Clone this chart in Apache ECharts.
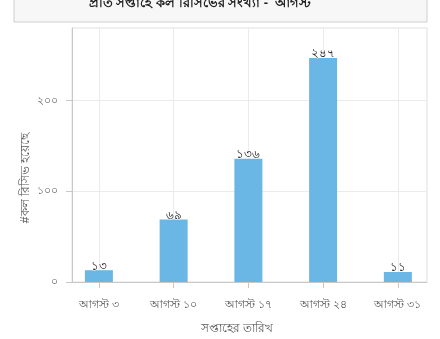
<!DOCTYPE html>
<html>
<head>
<meta charset="utf-8">
<script src="https://cdn.jsdelivr.net/npm/echarts@6/dist/echarts.min.js"></script>
<style>
html,body{margin:0;padding:0;background:#fff;}
#chart{width:440px;height:339px;}
</style>
</head>
<body>
<div id="chart"></div>
<script>
var titleText = 'প্রতি সপ্তাহে কল রিসিভের সংখ্যা -  আগস্ট';
var xAxisTitle = 'সপ্তাহের তারিখ';
var yAxisTitle = '#কল রিসিভ হয়েছে';
var categories = ['আগস্ট ৩', 'আগস্ট ১০', 'আগস্ট ১৭', 'আগস্ট ২৪', 'আগস্ট ৩১'];
var callCounts = [13, 69, 136, 247, 11];
var yTicks = [0, 100, 200];

var bnDigits = ['০','১','২','৩','৪','৫','৬','৭','৮','৯'];
function toBn(n){ return String(n).replace(/[0-9]/g, function(d){ return bnDigits[+d]; }); }

var FONT = 'sans-serif';
var chart = echarts.init(document.getElementById('chart'), null, {renderer:'canvas'});
var catIdx = categories.map(function(c,i){ return i; });
chart.setOption({
  animation:false,
  textStyle:{fontFamily:FONT},
  grid:{left:72, right:13, top:28, bottom:57, show:true, borderColor:'#e0e0e0', borderWidth:1, backgroundColor:'transparent'},
  graphic:[
    {type:'rect', shape:{x:14, y:-6, width:413, height:28}, style:{fill:'#f7f7f7', stroke:'#cfcfcf', lineWidth:1}, z:10},
    {type:'text', x:200, y:3, style:{text:titleText, font:'bold 13px sans-serif', fill:'#222', textAlign:'center', textVerticalAlign:'middle'}, z:11},
    {type:'text', x:237, y:329, style:{text:xAxisTitle, font:'12px sans-serif', fill:'#555', textAlign:'center', textVerticalAlign:'middle'}},
    {type:'text', x:26, y:178, rotation:Math.PI/2, style:{text:yAxisTitle, font:'12px sans-serif', fill:'#555', textAlign:'center', textVerticalAlign:'middle'}}
  ],
  xAxis:{
    type:'value', min:-0.36, max:4.39, splitNumber:5,
    axisLine:{show:true, onZero:false, lineStyle:{color:'#c8c8c8'}},
    axisTick:{show:true, length:6, lineStyle:{color:'#c8c8c8'}, customValues:catIdx},
    axisLabel:{customValues:catIdx, margin:17, color:'#555', fontSize:11, formatter:function(v){ var i=Math.round(v); return (Math.abs(v-i)<1e-6 && categories[i]) ? categories[i] : ''; }},
    splitLine:{show:true, lineStyle:{color:'#ebebeb', width:1}}
  },
  yAxis:{
    type:'value', min:0, max:280, interval:100,
    axisLine:{show:true, onZero:false, lineStyle:{color:'#c8c8c8'}},
    axisTick:{show:true, length:6, lineStyle:{color:'#c8c8c8'}, customValues:yTicks},
    axisLabel:{customValues:yTicks, margin:14, color:'#666', fontSize:11, formatter:function(v){ return yTicks.indexOf(v)>=0 ? toBn(v) : ''; }},
    splitLine:{show:true, lineStyle:{color:'#ebebeb', width:1}}
  },
  series:[{
    type:'bar', barWidth:28,
    data: callCounts.map(function(v,i){ return [i, v]; }),
    itemStyle:{color:'#6ab6e4'},
    label:{show:true, position:'top', distance:-2, color:'#222', fontSize:12, textBorderColor:'#fff', textBorderWidth:1,
      formatter:function(p){ return toBn(p.value[1]); }}
  }]
});
</script>
</body>
</html>
